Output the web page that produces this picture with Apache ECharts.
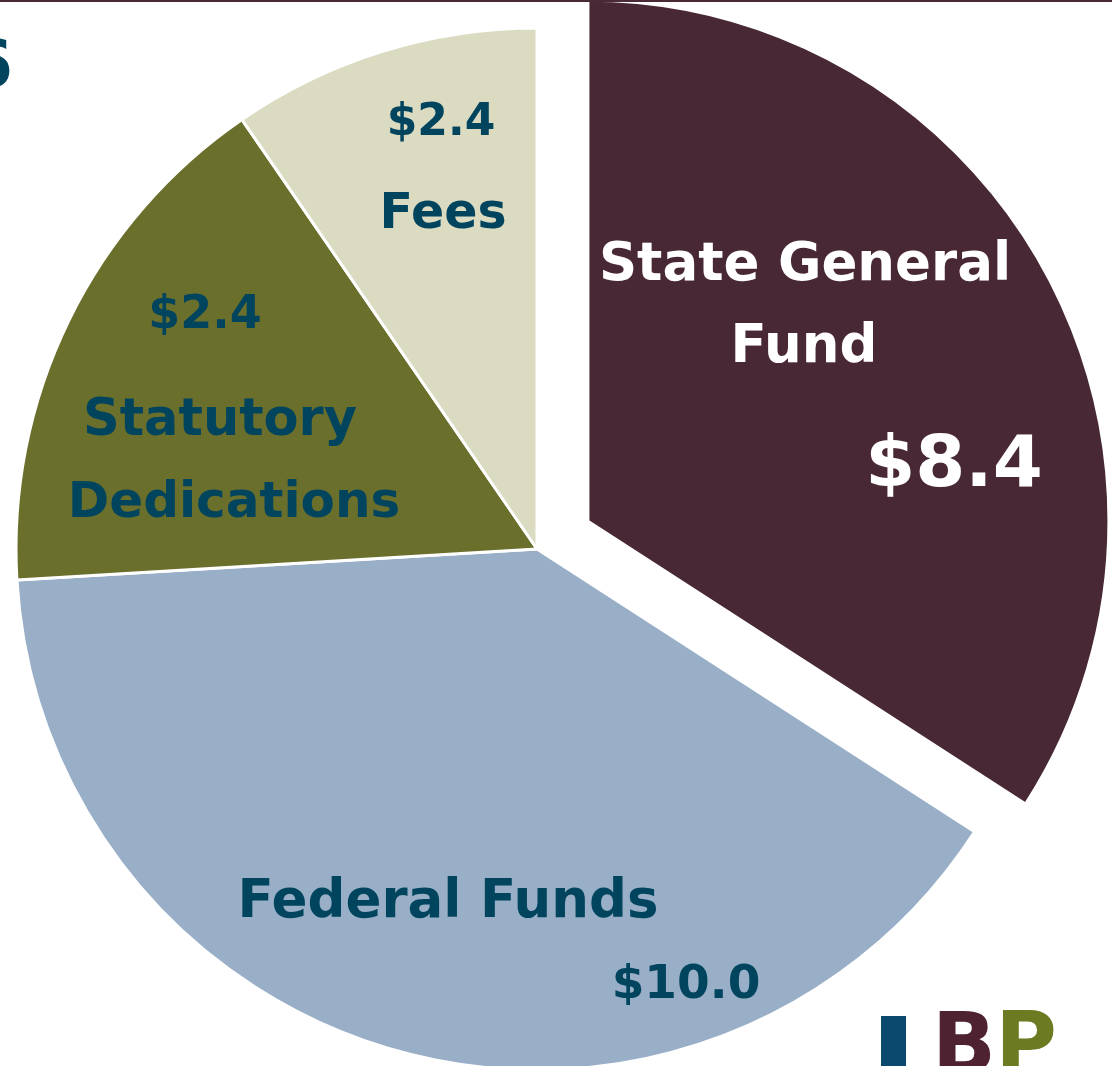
<!DOCTYPE html>
<html>
<head>
<meta charset="utf-8">
<script src="https://cdn.jsdelivr.net/npm/echarts@6/dist/echarts.min.js"></script>
<style>
  html, body { margin: 0; padding: 0; background: #ffffff; }
  #chart { width: 1112px; height: 1066px; }
</style>
</head>
<body>
<div id="chart"></div>
<script>
// Slice order: clockwise from 12 o'clock
const categories = ['State General Fund', 'Federal Funds', 'Statutory Dedications', 'Fees'];
// Slice sizes ($ billions)
const sliceValues = [8.55, 10.0, 4.1, 2.4];
// Value labels exactly as printed on the picture
const valueLabels = ['$8.4', '$10.0', '$2.4', '$2.4'];
// Name labels as printed (line breaks as in picture)
const nameLines = [['State General', 'Fund'], ['Federal Funds'], ['Statutory', 'Dedications'], ['Fees']];

const sliceColors = ['#482835', '#98AFC7', '#6B6F2C', '#DBDBC2'];
const TEAL = '#00445E';
const FONT = '"DejaVu Sans", sans-serif';

const chart = echarts.init(document.getElementById('chart'), null, { renderer: 'canvas' });

function txt(str, x, y, size, color) {
  return {
    type: 'text', x: x, y: y, z: 100, silent: true,
    style: { text: str, fill: color, font: 'bold ' + size + 'px ' + FONT, textAlign: 'center', textVerticalAlign: 'middle' }
  };
}

const graphics = [
  // thin top rule
  { type: 'rect', shape: { x: 0, y: 0, width: 1112, height: 2 }, style: { fill: '#4A2A36' }, z: 100, silent: true },
  // clipped title glyph at left edge
  txt('6', -10, 70, 66, TEAL),
  // State General Fund
  txt(nameLines[0][0], 805, 266, 53, '#ffffff'),
  txt(nameLines[0][1], 804, 348, 53, '#ffffff'),
  txt(valueLabels[0], 954, 467, 72, '#ffffff'),
  // Federal Funds
  txt(nameLines[1][0], 448, 903, 53, TEAL),
  txt(valueLabels[1], 686, 986, 47, TEAL),
  // Statutory Dedications
  txt(valueLabels[2], 205, 316, 46, TEAL),
  txt(nameLines[2][0], 220, 422, 51, TEAL),
  txt(nameLines[2][1], 234, 504, 50, TEAL),
  // Fees
  txt(valueLabels[3], 441, 124, 44, TEAL),
  txt(nameLines[3][0], 443, 215, 49, TEAL),
  // logo (partially cut off at bottom)
  { type: 'rect', shape: { x: 881, y: 1016, width: 25, height: 60 }, style: { fill: '#0B4A6E' }, z: 100, silent: true },
  { type: 'text', x: 964, y: 1008, z: 100, silent: true,
    style: { text: 'B', fill: '#4E2230', font: 'bold 84px ' + FONT, textAlign: 'center', textVerticalAlign: 'top' } },
  { type: 'text', x: 1026, y: 1007, z: 100, silent: true,
    style: { text: 'P', fill: '#6C7A22', font: 'bold 84px ' + FONT, textAlign: 'center', textVerticalAlign: 'top' } }
];

const option = {
  animation: false,
  backgroundColor: '#ffffff',
  graphic: graphics,
  series: [{
    type: 'pie',
    center: [537, 549],
    radius: [0, 521],
    startAngle: 90,
    clockwise: true,
    selectedMode: 'multiple',
    selectedOffset: 58,
    label: { show: false },
    labelLine: { show: false },
    emphasis: { disabled: true },
    itemStyle: { borderColor: '#ffffff', borderWidth: 3 },
    data: categories.map((c, i) => ({
      name: c,
      value: sliceValues[i],
      selected: i === 0,
      itemStyle: { color: sliceColors[i] }
    }))
  }]
};
chart.setOption(option);
</script>
</body>
</html>
